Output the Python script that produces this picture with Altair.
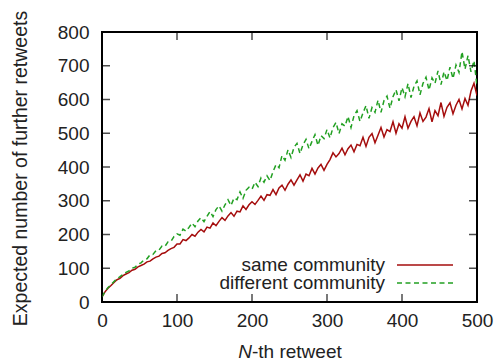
import altair as alt
import pandas as pd

# ---- data ----
x_vals = list(range(0, 501, 4))  # N-th retweet sample positions

same_vals = [
    15, 30, 41, 49, 58, 66, 70, 78, 83, 87,
    94, 97, 104, 108, 112, 119, 121, 128, 133, 136,
    144, 146, 153, 158, 162, 172, 172, 185, 182, 190,
    200, 195, 207, 215, 208, 222, 219, 234, 226, 239,
    250, 242, 255, 265, 254, 269, 267, 285, 274, 288,
    297, 289, 301, 314, 301, 318, 316, 333, 318, 338,
    346, 331, 349, 362, 346, 362, 377, 358, 379, 374,
    396, 379, 397, 408, 390, 408, 422, 442, 430, 440,
    456, 436, 454, 465, 445, 467, 463, 488, 461, 488,
    499, 472, 494, 517, 489, 511, 505, 534, 500, 528,
    515, 549, 515, 535, 549, 522, 560, 535, 548, 573,
    534, 567, 552, 591, 550, 577, 590, 558, 583, 600,
    572, 603, 583, 625, 648, 612,
]

diff_vals = [
    15, 31, 43, 51, 61, 69, 75, 82, 88, 92,
    100, 103, 112, 116, 125, 128, 140, 141, 152, 154,
    166, 165, 178, 180, 194, 202, 198, 216, 210, 221,
    234, 223, 240, 250, 238, 254, 268, 253, 274, 285,
    269, 288, 303, 286, 308, 303, 326, 307, 331, 340,
    334, 355, 342, 368, 355, 374, 360, 386, 407, 398,
    434, 420, 451, 428, 458, 470, 440, 466, 482, 454,
    476, 496, 464, 493, 484, 511, 486, 517, 532, 499,
    528, 521, 550, 517, 552, 567, 535, 560, 582, 544,
    576, 562, 598, 562, 597, 610, 574, 608, 629, 596,
    635, 608, 647, 606, 639, 655, 614, 648, 666, 628,
    664, 648, 685, 644, 682, 656, 696, 662, 702, 680,
    742, 690, 730, 682, 715, 640,
]

series_names = ["same community", "different community"]
x_ticks = [0, 100, 200, 300, 400, 500]
y_ticks = [0, 100, 200, 300, 400, 500, 600, 700, 800]

# ---- styling ----
FONT = "Liberation Sans"
TXT = "#222222"
RED = "#a50d0d"
GREEN = "#22a022"
W, H = 375, 270

same_df = pd.DataFrame({"x": x_vals, "y": same_vals})
diff_df = pd.DataFrame({"x": x_vals, "y": diff_vals})

xs = alt.Scale(domain=[0, 500], nice=False, zero=False)
ys = alt.Scale(domain=[0, 800], nice=False)

x_axis = alt.Axis(values=x_ticks, title=None, labelFlush=False, ticks=False, tickSize=0,
                  domain=False, grid=False, labelPadding=9, labelFontSize=19,
                  labelFont=FONT, labelColor=TXT)
y_axis = alt.Axis(values=y_ticks, title="Expected number of further retweets",
                  labelFlush=False, ticks=False, tickSize=0, domain=False, grid=False,
                  labelPadding=13, labelFontSize=19, labelFont=FONT, labelColor=TXT,
                  titleFont=FONT, titleFontSize=19.5, titleFontWeight="normal", titleColor=TXT,
                  titleX=-82, titleY=136, titleAngle=270, titleAlign="center",
                  titleBaseline="middle")

red_line = alt.Chart(same_df).mark_line(color=RED, strokeWidth=1.5, clip=True).encode(
    x=alt.X("x:Q", scale=xs, axis=x_axis),
    y=alt.Y("y:Q", scale=ys, axis=y_axis),
)
green_line = alt.Chart(diff_df).mark_line(color=GREEN, strokeWidth=1.5, strokeDash=[5, 3.5], clip=True).encode(
    x=alt.X("x:Q", scale=xs, axis=x_axis),
    y=alt.Y("y:Q", scale=ys, axis=y_axis),
)

xt_df = pd.DataFrame({"v": x_ticks})
yt_df = pd.DataFrame({"v": y_ticks})
tick_kw = dict(clip=True, size=16, thickness=1.5, color="black")
t_bottom = alt.Chart(xt_df).mark_tick(orient="vertical", **tick_kw).encode(
    x=alt.X("v:Q", scale=xs, axis=x_axis), y=alt.value(H))
t_top = alt.Chart(xt_df).mark_tick(orient="vertical", **tick_kw).encode(
    x=alt.X("v:Q", scale=xs, axis=x_axis), y=alt.value(0))
t_left = alt.Chart(yt_df).mark_tick(orient="horizontal", **tick_kw).encode(
    y=alt.Y("v:Q", scale=ys, axis=y_axis), x=alt.value(0))
t_right = alt.Chart(yt_df).mark_tick(orient="horizontal", **tick_kw).encode(
    y=alt.Y("v:Q", scale=ys, axis=y_axis), x=alt.value(W))

# legend (inside, bottom right)
leg1 = pd.DataFrame({"label": [series_names[0]]})
leg2 = pd.DataFrame({"label": [series_names[1]]})
txt_kw = dict(font=FONT, fontSize=19, color=TXT, align="right", baseline="middle")
l1_text = alt.Chart(leg1).mark_text(**txt_kw).encode(text="label:N", x=alt.value(283), y=alt.value(233))
l2_text = alt.Chart(leg2).mark_text(**txt_kw).encode(text="label:N", x=alt.value(283), y=alt.value(251))
l1_rule = alt.Chart(leg1).mark_rule(color=RED, strokeWidth=1.6).encode(
    x=alt.value(295), x2=alt.value(351), y=alt.value(233))
l2_rule = alt.Chart(leg2).mark_rule(color=GREEN, strokeWidth=1.6, strokeDash=[5, 3.5]).encode(
    x=alt.value(295), x2=alt.value(351), y=alt.value(251))

# x-axis title with italic N
xt1 = pd.DataFrame({"t": ["N"]})
xt2 = pd.DataFrame({"t": ["-th retweet"]})
x_title_n = alt.Chart(xt1).mark_text(font=FONT, fontSize=19, fontStyle="italic", color=TXT,
                                     align="right", baseline="middle").encode(
    text="t:N", x=alt.value(150), y=alt.value(320))
x_title_rest = alt.Chart(xt2).mark_text(font=FONT, fontSize=19, color=TXT,
                                        align="left", baseline="middle").encode(
    text="t:N", x=alt.value(150), y=alt.value(320))

chart = alt.layer(
    red_line, green_line, t_bottom, t_top, t_left, t_right,
    l1_rule, l2_rule, l1_text, l2_text, x_title_n, x_title_rest,
).properties(
    width=W, height=H,
    autosize=alt.AutoSizeParams(type="none"),
    padding={"left": 102, "top": 32, "right": 19, "bottom": 60},
    background="white",
).configure_view(stroke="black", strokeWidth=2)

chart.save("out.html", embed_options={"renderer": "svg", "actions": False})
